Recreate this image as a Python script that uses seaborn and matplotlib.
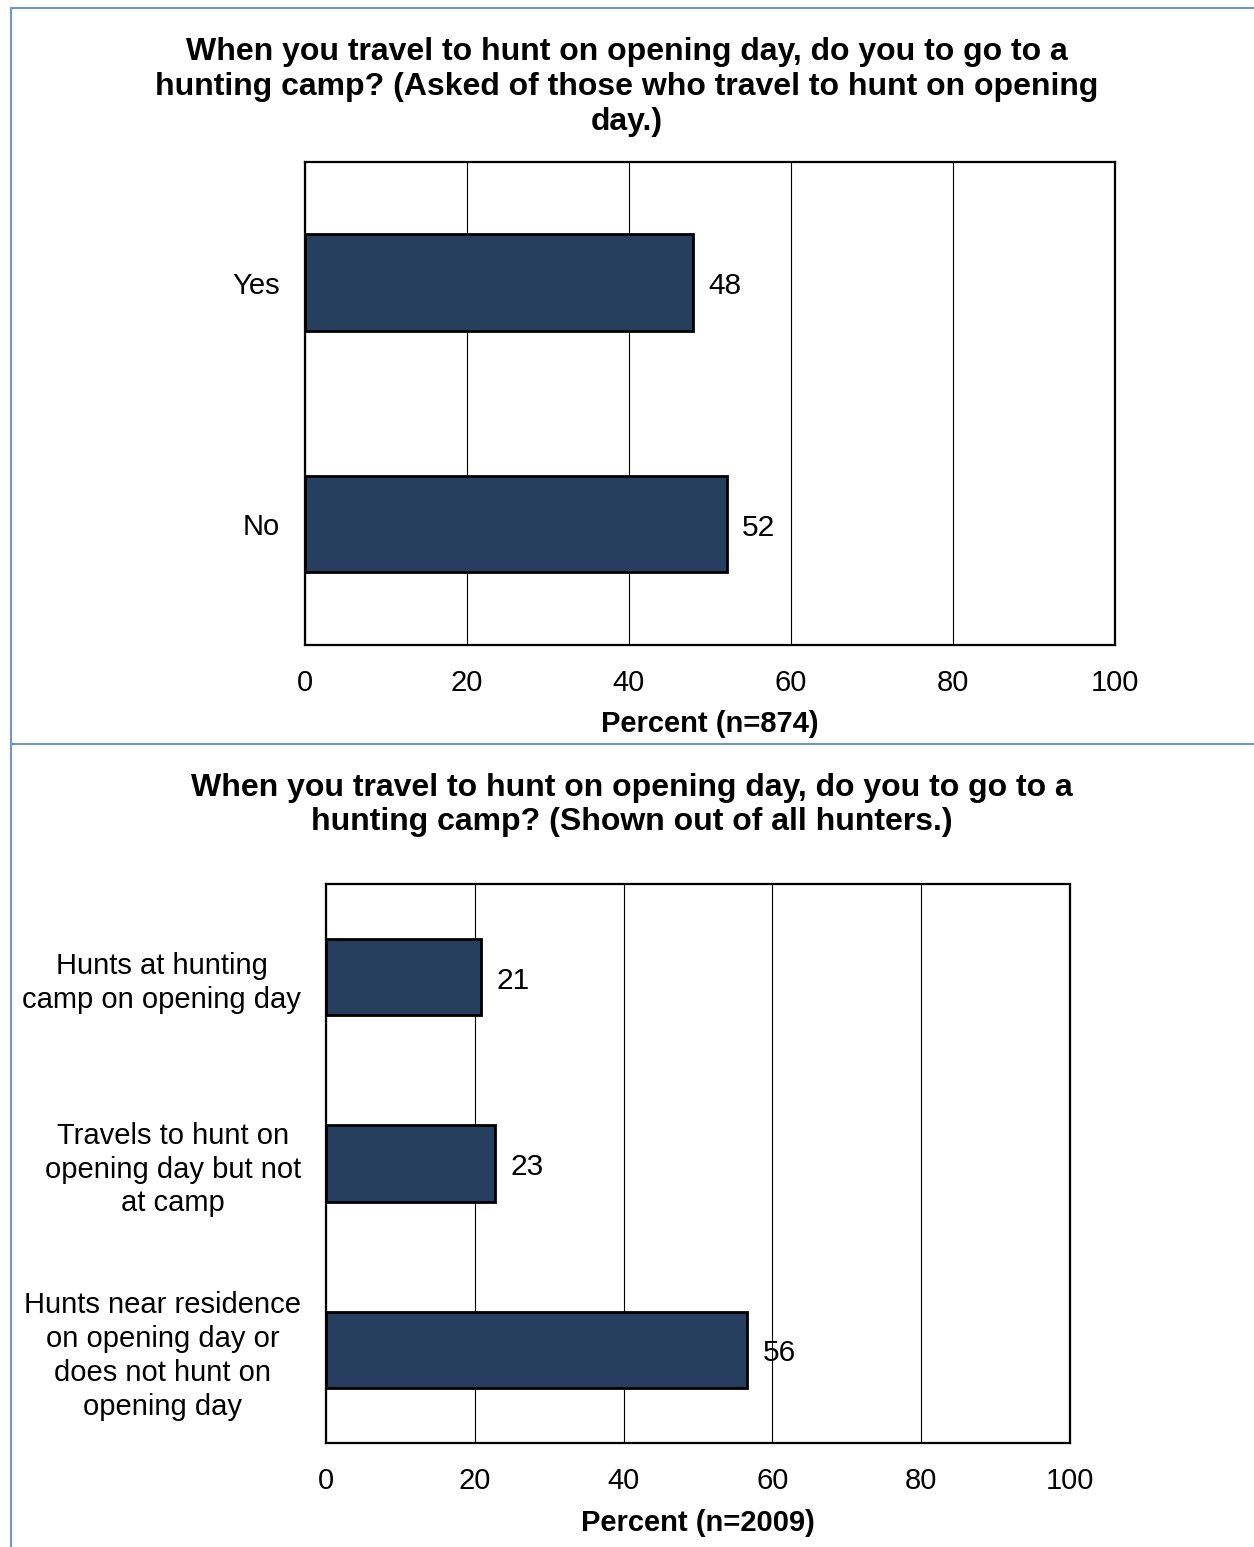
import numpy as np
import pandas as pd
import matplotlib
matplotlib.use("Agg")
import matplotlib.pyplot as plt
from matplotlib.lines import Line2D
from matplotlib.ticker import FixedLocator
import seaborn as sns

# values
camp_cats = ["Yes", "No"]
camp_vals = [47.9, 52.1]
camp_text = ["48", "52"]

all_cats = [
    "Hunts at hunting\ncamp on opening day",
    "Travels to hunt on\nopening day but not\nat camp",
    "Hunts near residence\non opening day or\ndoes not hunt on\nopening day",
]
all_vals = [20.8, 22.7, 56.6]
all_text = ["21", "23", "56"]

x_ticks = [0, 20, 40, 60, 80, 100]

BAR = "#263f5f"
FRAME = "#7096cc"

sns.set_style("white")
plt.rcParams["font.family"] = ["Liberation Sans", "DejaVu Sans"]
plt.rcParams["text.color"] = "black"
plt.rcParams["xtick.color"] = "black"
plt.rcParams["ytick.color"] = "black"
plt.rcParams["axes.labelcolor"] = "black"


def bar_panel(ax, cats, vals, texts, xlabel, width):
    df = pd.DataFrame({"cat": cats, "val": vals})
    sns.barplot(data=df, x="val", y="cat", orient="h", order=cats, color=BAR,
                edgecolor="black", linewidth=2, width=width, saturation=1, ax=ax)
    ax.set_xlim(0, 100)
    ax.set_ylim(len(cats) - 0.5, -0.5)
    ax.set_xticks(x_ticks)
    ax.set_xticklabels([str(t) for t in x_ticks], fontsize=21)
    ax.tick_params(axis="x", length=7, width=0.8, color="#555555",
                   labelcolor="black", pad=10)
    ax.tick_params(axis="y", which="major", length=0, pad=18, labelsize=21,
                   labelcolor="black")
    ax.yaxis.set_minor_locator(FixedLocator(np.arange(len(cats) + 1) - 0.5))
    ax.tick_params(axis="y", which="minor", length=7, width=0.8, color="#555555")
    for lbl in ax.get_yticklabels():
        lbl.set_multialignment("center")
        lbl.set_linespacing(1.27)
    ax.set_ylabel("")
    ax.set_xlabel(xlabel, fontsize=21, fontweight="bold", labelpad=10)
    ax.set_axisbelow(True)
    ax.xaxis.grid(True, color="black", linewidth=0.8)
    for sp in ax.spines.values():
        sp.set_visible(True)
        sp.set_color("black")
        sp.set_linewidth(1.6)
    for i, (v, t) in enumerate(zip(vals, texts)):
        ax.annotate(t, xy=(v, i), xytext=(11, -2.5), textcoords="offset points",
                    ha="left", va="center", fontsize=21.5)


fig = plt.figure(figsize=(12.54, 15.47), dpi=100)

ax1 = fig.add_axes([0.2432, 0.5831, 0.6459, 0.3122])
bar_panel(ax1, camp_cats, camp_vals, camp_text, "Percent (n=874)", 0.4)

ax2 = fig.add_axes([0.26, 0.0672, 0.5933, 0.3613])
bar_panel(ax2, all_cats, all_vals, all_text, "Percent (n=2009)", 0.41)

fig.text(0.5, 0.9438,
         "When you travel to hunt on opening day, do you to go to a\n"
         "hunting camp? (Asked of those who travel to hunt on opening\n"
         "day.)", ha="center", va="center", fontsize=23, fontweight="bold",
         linespacing=1.2)
fig.text(0.504, 0.4796,
         "When you travel to hunt on opening day, do you to go to a\n"
         "hunting camp? (Shown out of all hunters.)",
         ha="center", va="center", fontsize=23, fontweight="bold",
         linespacing=1.2)

# light blue frame around the two panels
lx = 11 / 1254
fig.add_artist(Line2D([lx, lx], [0, 1 - 8 / 1547], color=FRAME, linewidth=1.5))
fig.add_artist(Line2D([lx, 1], [1 - 8 / 1547, 1 - 8 / 1547], color=FRAME, linewidth=1.5))
fig.add_artist(Line2D([lx, 1], [1 - 744 / 1547, 1 - 744 / 1547], color=FRAME, linewidth=1.5))

fig.savefig("out.png", dpi=100)
